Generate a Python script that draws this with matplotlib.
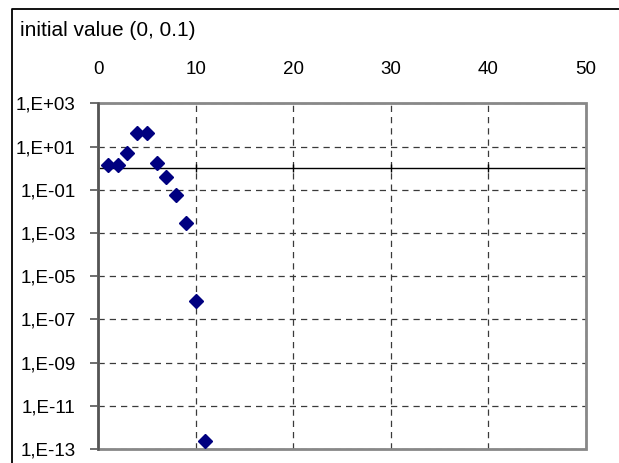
import numpy as np
import matplotlib
matplotlib.use("Agg")
import matplotlib.pyplot as plt
from matplotlib.lines import Line2D
from matplotlib.patches import Rectangle

plt.rcParams['font.family'] = ['Liberation Sans', 'DejaVu Sans']

# Iteration number and magnitude of the iterate
steps = [1, 2, 3, 4, 5, 6, 7, 8, 9, 10, 11]
values = [1.4, 1.4, 5.2, 41, 41, 1.7, 0.37, 0.057, 0.003, 7e-7, 2.4e-13]

x_ticks = [0, 10, 20, 30, 40, 50]
y_exponents = [3, 1, -1, -3, -5, -7, -9, -11, -13]
y_labels = ["1,E+03", "1,E+01", "1,E-01", "1,E-03", "1,E-05",
            "1,E-07", "1,E-09", "1,E-11", "1,E-13"]
title = "initial value (0, 0.1)"

W, H = 619, 463
fig = plt.figure(figsize=(W / 100, H / 100), dpi=100)
ax = fig.add_axes([98 / W, 1 - 449 / H, (586 - 98) / W, (449 - 103.3) / H])

ax.set_yscale('log')
ax.set_xlim(0, 50)
ax.set_ylim(1e-13, 1e3)
ax.set_yticks([10.0 ** e for e in y_exponents])
ax.set_yticklabels(y_labels)
ax.yaxis.set_minor_locator(matplotlib.ticker.NullLocator())
ax.set_xticks(x_ticks)
ax.set_xticklabels([str(t) for t in x_ticks])

# gridlines
ax.grid(True, which='major', color='#3a3a3a', linestyle=(0, (5, 4)), linewidth=0.9)
ax.set_axisbelow(True)

# category axis crosses at y = 1, labels shown above the plot area
ax.spines['bottom'].set_position(('data', 1))
ax.spines['bottom'].set_color('black')
ax.spines['bottom'].set_linewidth(1.0)
ax.spines['top'].set_visible(False)
ax.spines['right'].set_visible(False)
ax.spines['left'].set_color('#555555')
ax.spines['left'].set_linewidth(1.8)
ax.spines['left'].set_zorder(4)

ax.add_patch(Rectangle((0, 0), 1, 1, transform=ax.transAxes, fill=False,
                       edgecolor='#888888', linewidth=2.0, clip_on=False, zorder=3))

ax.tick_params(axis='x', which='major', bottom=True, top=False,
               labelbottom=False, labeltop=True, direction='inout',
               length=6, width=1, color='black', pad=15.5, labelsize=13.5)
ax.tick_params(axis='y', which='major', direction='out', length=6, width=1.2,
               color='#555555', pad=10, labelsize=13.5)

ax.plot(steps, values, linestyle='none', marker='D', markersize=7.5,
        color='#000080', markeredgecolor='#000080', zorder=5, clip_on=False)

fig.text(20 / W, 1 - 30 / H, title, fontsize=15, ha='left', va='center')

# chart area border (left and top edges)
fig.add_artist(Line2D([12 / W, 12 / W, 1.0], [0.0, 1 - 9.3 / H, 1 - 9.3 / H],
                      transform=fig.transFigure, color='black', linewidth=1.3))

fig.savefig("out.png", dpi=100)
